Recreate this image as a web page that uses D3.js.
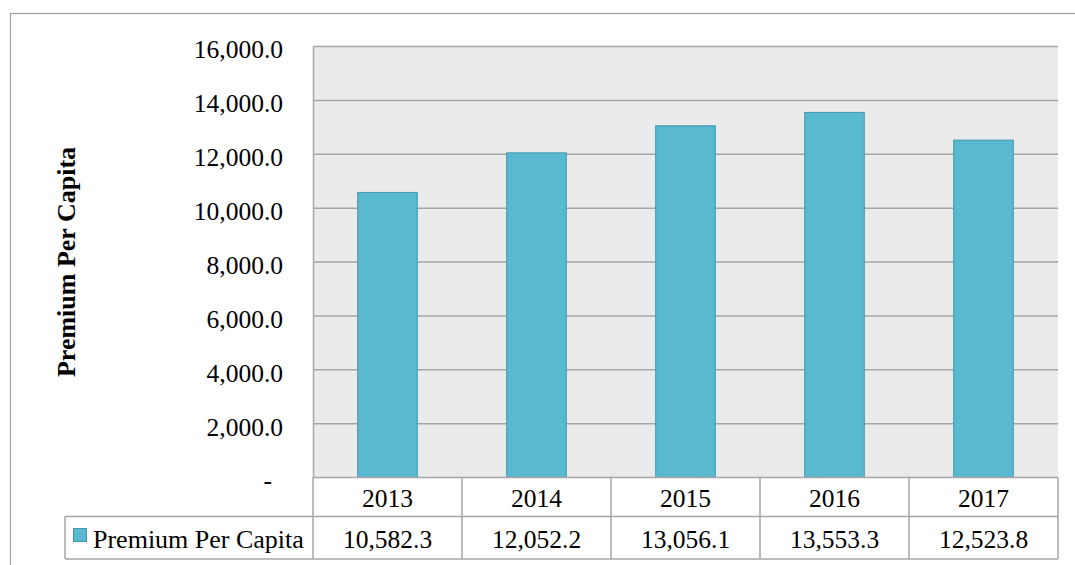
<!DOCTYPE html>
<html>
<head>
<meta charset="utf-8">
<script src="https://cdn.jsdelivr.net/npm/d3@7"></script>
<style>
  html, body { margin: 0; padding: 0; background: #ffffff; }
  svg { display: block; }
  text { font-family: "Liberation Serif", "Times New Roman", serif; fill: #000; }
</style>
</head>
<body>
<svg id="chart" width="1075" height="565"></svg>
<script>
// Premium per capita by year
const years = ["2013", "2014", "2015", "2016", "2017"];
const premiumPerCapita = [10582.3, 12052.2, 13056.1, 13553.3, 12523.8];
const yTicks = [0, 2000, 4000, 6000, 8000, 10000, 12000, 14000, 16000];
const seriesName = "Premium Per Capita";
const axisTitle = "Premium Per Capita";

const svg = d3.select("#chart");
const W = 1075, H = 565;

const plot = { left: 313, right: 1058, top: 46.5, bottom: 477.5 };
const row1Bottom = 516.5;
const row2Bottom = 559;
const legendLeft = 65;
const gridColor = "#a6a6a6";
const fontSize = 25.5;

const x = d3.scaleBand().domain(years).range([plot.left, plot.right]).paddingInner(0).paddingOuter(0);
const y = d3.scaleLinear().domain([0, 16000]).range([plot.bottom, plot.top]);

const fmt = d3.format(",.1f");

// outer chart frame
svg.append("rect")
  .attr("x", 10.5).attr("y", 13.5)
  .attr("width", W + 20).attr("height", H + 20)
  .attr("fill", "none").attr("stroke", "#a0a0a0").attr("stroke-width", 1.2);

// plot background
svg.append("rect")
  .attr("x", plot.left).attr("y", plot.top)
  .attr("width", plot.right - plot.left).attr("height", plot.bottom - plot.top)
  .attr("fill", "#ebebeb");

// horizontal gridlines
svg.append("g").selectAll("line")
  .data(yTicks.filter(d => d > 0))
  .join("line")
  .attr("x1", plot.left).attr("x2", plot.right)
  .attr("y1", d => y(d)).attr("y2", d => y(d))
  .attr("stroke", gridColor).attr("stroke-width", 1.5);

// y axis with tick labels
const yAxis = d3.axisLeft(y)
  .tickValues(yTicks)
  .tickSize(0)
  .tickPadding(30)
  .tickFormat(d => d === 0 ? "-" : fmt(d));

const gy = svg.append("g")
  .attr("transform", `translate(${plot.left},0)`)
  .call(yAxis);
gy.select(".domain").attr("stroke", gridColor).attr("stroke-width", 1.5);
gy.selectAll("text")
  .attr("font-family", "Liberation Serif, Times New Roman, serif")
  .attr("font-size", fontSize)
  .attr("fill", "#000")
  .attr("dy", "0.45em")
  .attr("x", d => d === 0 ? -41 : -30);

// bars
const barW = x.bandwidth() * 0.4;
svg.append("g").selectAll("rect")
  .data(years.map((yr, i) => ({ yr, v: premiumPerCapita[i] })))
  .join("rect")
  .attr("x", d => x(d.yr) + (x.bandwidth() - barW) / 2)
  .attr("y", d => y(d.v))
  .attr("width", barW)
  .attr("height", d => y(0) - y(d.v))
  .attr("fill", "#58b9d1")
  .attr("stroke", "#4596ab")
  .attr("stroke-width", 1);

// data table beneath the plot
const table = svg.append("g").attr("stroke", gridColor).attr("stroke-width", 1.5).attr("fill", "none");
// horizontal rules
table.append("line").attr("x1", plot.left).attr("x2", plot.right).attr("y1", plot.bottom).attr("y2", plot.bottom);
table.append("line").attr("x1", legendLeft).attr("x2", plot.right).attr("y1", row1Bottom).attr("y2", row1Bottom);
table.append("line").attr("x1", legendLeft).attr("x2", plot.right).attr("y1", row2Bottom).attr("y2", row2Bottom);
// vertical rules
table.append("line").attr("x1", legendLeft).attr("x2", legendLeft).attr("y1", row1Bottom).attr("y2", row2Bottom);
table.selectAll("line.col")
  .data(years.map(yr => x(yr)).concat([plot.right]))
  .join("line")
  .attr("class", "col")
  .attr("x1", d => d).attr("x2", d => d)
  .attr("y1", plot.bottom).attr("y2", row2Bottom);

// year headers
svg.append("g").selectAll("text")
  .data(years)
  .join("text")
  .attr("x", d => x(d) + x.bandwidth() / 2)
  .attr("y", 506.5)
  .attr("text-anchor", "middle")
  .attr("font-size", fontSize)
  .text(d => d);

// value cells
svg.append("g").selectAll("text")
  .data(years.map((yr, i) => ({ yr, v: premiumPerCapita[i] })))
  .join("text")
  .attr("x", d => x(d.yr) + x.bandwidth() / 2)
  .attr("y", 548)
  .attr("text-anchor", "middle")
  .attr("font-size", fontSize)
  .text(d => fmt(d.v));

// legend key in the table
svg.append("rect")
  .attr("x", 73.5).attr("y", 528.5)
  .attr("width", 13).attr("height", 13)
  .attr("fill", "#58b9d1").attr("stroke", "#4596ab").attr("stroke-width", 1);
svg.append("text")
  .attr("x", 93).attr("y", 548)
  .attr("font-size", 26)
  .text(seriesName);

// y axis title
svg.append("text")
  .attr("transform", `translate(75,${(plot.top + plot.bottom) / 2}) rotate(-90)`)
  .attr("text-anchor", "middle")
  .attr("font-size", 26)
  .attr("font-weight", "bold")
  .text(axisTitle);
</script>
</body>
</html>
